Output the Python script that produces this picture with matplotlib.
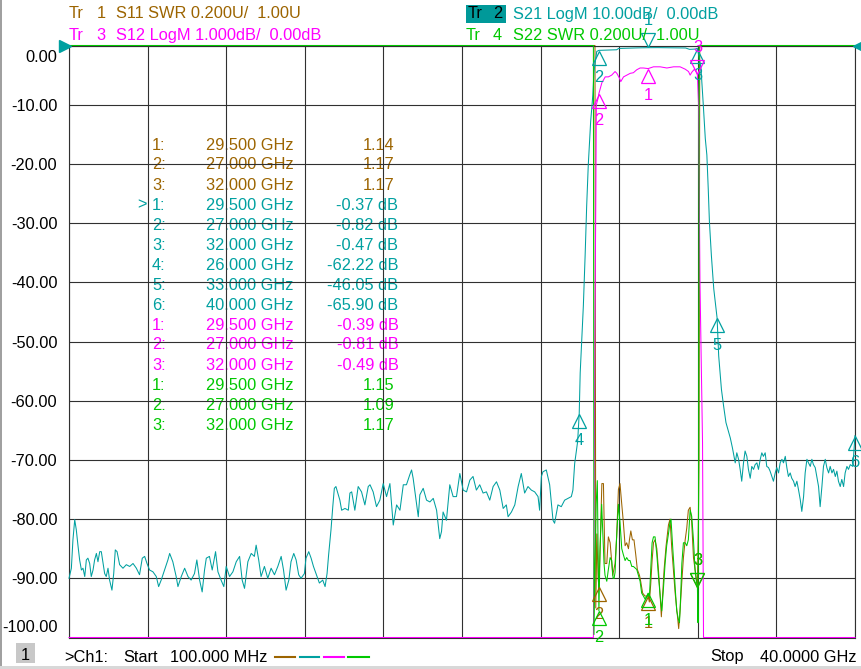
import numpy as np
import matplotlib
matplotlib.use("Agg")
import matplotlib.pyplot as plt
from matplotlib import transforms
from matplotlib.patches import Rectangle
from matplotlib.lines import Line2D

W, H = 862, 669
FONT = "Liberation Sans"
FS = 11.8

BROWN = "#9c6400"
CYAN = "#00a0a0"
MAGENTA = "#ff00ff"
GREEN = "#00c800"
GRID = "#303030"

f_start, f_stop = 0.1, 40.0

# Tr 2  S21 LogM (GHz, dB)
s21_pts = [
    (0.10, -90.0), (0.22, -88.3), (0.30, -83.5), (0.39, -80.1), (0.47, -81.8), (0.56, -84.6),
    (0.64, -86.9), (0.73, -88.6), (0.81, -88.3), (0.90, -89.7), (0.98, -86.9), (1.06, -86.6),
    (1.15, -87.5), (1.23, -89.7), (1.32, -88.6), (1.40, -86.9), (1.49, -85.8), (1.57, -87.2),
    (1.66, -85.5), (1.74, -85.5), (1.83, -87.5), (1.91, -89.2), (1.99, -89.7), (2.08, -88.3),
    (2.16, -90.3), (2.28, -92.0), (2.37, -89.2), (2.45, -85.2), (2.54, -85.5), (2.67, -87.7),
    (2.84, -88.3), (3.01, -87.7), (3.18, -88.0), (3.35, -87.5), (3.52, -88.3), (3.68, -89.4),
    (3.82, -86.6), (3.94, -86.3), (4.06, -87.5), (4.19, -88.6), (4.36, -88.9), (4.53, -89.7),
    (4.65, -91.4), (4.78, -90.3), (4.95, -88.6), (5.12, -86.9), (5.21, -85.8), (5.37, -87.2),
    (5.54, -89.7), (5.63, -91.4), (5.80, -89.7), (5.97, -88.3), (6.14, -89.7), (6.30, -90.3),
    (6.47, -89.2), (6.59, -86.9), (6.73, -90.3), (6.86, -92.3), (6.98, -88.6), (7.07, -86.6),
    (7.23, -86.3), (7.37, -88.6), (7.54, -85.5), (7.66, -88.9), (7.82, -90.3), (7.96, -91.4),
    (8.08, -88.0), (8.25, -89.7), (8.42, -88.9), (8.59, -87.2), (8.76, -86.3), (8.89, -90.3),
    (9.01, -91.7), (9.18, -87.2), (9.35, -85.8), (9.51, -86.3), (9.60, -84.4), (9.73, -86.9),
    (9.85, -89.7), (10.02, -88.0), (10.19, -90.0), (10.36, -88.3), (10.53, -89.4), (10.70, -88.0),
    (10.87, -86.3), (10.99, -88.6), (11.12, -92.0), (11.26, -90.3), (11.37, -87.2), (11.51, -85.8),
    (11.63, -86.9), (11.76, -89.4), (11.88, -90.0), (12.05, -89.2), (12.13, -86.6), (12.27, -85.5),
    (12.39, -86.6), (12.51, -88.0), (12.64, -89.2), (12.81, -90.8), (12.98, -90.3), (13.10, -91.4),
    (13.20, -89.2), (13.28, -86.0), (13.40, -81.8), (13.49, -77.9), (13.57, -74.8), (13.65, -74.5),
    (13.85, -76.8), (13.94, -78.5), (14.11, -78.2), (14.28, -78.5), (14.36, -75.6), (14.45, -75.4),
    (14.61, -78.5), (14.78, -74.5), (14.95, -75.4), (15.12, -77.6), (15.29, -74.5), (15.38, -74.2),
    (15.54, -75.4), (15.71, -77.9), (15.88, -76.8), (16.05, -74.0), (16.22, -76.2), (16.39, -74.0),
    (16.56, -81.0), (16.73, -77.6), (16.90, -78.5), (17.07, -74.2), (17.23, -74.2), (17.40, -72.5),
    (17.49, -71.7), (17.57, -73.1), (17.74, -77.3), (17.83, -79.6), (17.91, -75.9), (18.08, -74.8),
    (18.25, -76.8), (18.42, -77.1), (18.59, -76.5), (18.76, -78.5), (18.92, -83.3), (19.01, -82.1),
    (19.09, -78.8), (19.26, -80.2), (19.43, -74.2), (19.60, -76.2), (19.77, -76.2), (19.94, -72.3),
    (20.11, -75.1), (20.28, -75.4), (20.45, -73.4), (20.61, -72.8), (20.78, -75.1), (20.95, -74.2),
    (21.12, -75.6), (21.29, -75.4), (21.46, -76.8), (21.63, -74.5), (21.80, -73.7), (21.97, -75.1),
    (22.14, -78.2), (22.30, -77.6), (22.39, -79.6), (22.56, -78.8), (22.73, -77.6), (22.90, -74.5),
    (23.06, -72.3), (23.23, -75.6), (23.40, -74.5), (23.57, -75.1), (23.74, -75.4), (23.91, -76.2),
    (23.99, -78.5), (24.08, -72.8), (24.16, -72.0), (24.33, -71.7), (24.50, -74.2), (24.67, -80.2),
    (24.75, -80.7), (24.92, -77.6), (25.09, -77.9), (25.26, -76.8), (25.43, -76.5), (25.60, -76.2),
    (25.68, -75.1), (25.77, -70.6), (25.85, -68.6), (25.92, -66.9), (26.00, -62.2), (26.05, -55.3),
    (26.13, -49.6), (26.21, -44.0), (26.30, -35.5), (26.38, -27.0), (26.46, -20.2), (26.58, -12.9),
    (26.69, -8.4), (26.75, -4.4), (26.89, -1.0), (27.00, -0.82), (27.40, -0.78), (27.90, -0.72),
    (28.00, -0.50), (28.50, -0.45), (29.00, -0.40), (29.50, -0.37), (30.00, -0.36), (30.50, -0.38),
    (31.00, -0.40), (31.40, -0.42), (31.60, -0.65), (31.90, -0.60), (32.00, -0.47), (32.18, -3.8),
    (32.30, -10.1), (32.40, -15.7), (32.48, -18.5), (32.55, -24.2), (32.61, -29.8), (32.71, -35.5),
    (32.83, -41.1), (33.00, -46.05), (33.08, -52.4), (33.22, -58.1), (33.33, -60.9), (33.45, -63.7),
    (33.55, -64.9), (33.67, -66.3), (33.78, -68.0), (33.92, -70.5), (34.00, -68.8), (34.09, -69.9),
    (34.17, -71.6), (34.25, -73.6), (34.34, -70.5), (34.42, -68.5), (34.51, -69.4), (34.59, -71.6),
    (34.68, -73.1), (34.76, -71.1), (34.85, -71.6), (34.93, -70.8), (35.02, -70.5), (35.10, -71.6),
    (35.19, -69.9), (35.27, -68.8), (35.35, -69.4), (35.44, -68.8), (35.52, -71.1), (35.61, -71.3),
    (35.69, -71.9), (35.78, -72.8), (35.86, -73.6), (35.95, -72.2), (36.03, -71.3), (36.12, -72.2),
    (36.20, -70.5), (36.29, -69.9), (36.37, -70.5), (36.46, -69.4), (36.54, -71.3), (36.62, -72.8),
    (36.71, -72.2), (36.79, -73.1), (36.88, -73.6), (36.96, -74.5), (37.05, -73.6), (37.13, -75.0),
    (37.22, -76.7), (37.30, -78.7), (37.39, -76.2), (37.47, -72.2), (37.56, -69.9), (37.64, -70.5),
    (37.73, -71.1), (37.81, -69.9), (37.89, -70.8), (37.98, -71.3), (38.06, -72.8), (38.15, -74.5),
    (38.23, -77.9), (38.32, -74.5), (38.40, -71.1), (38.49, -69.9), (38.57, -71.3), (38.66, -72.2),
    (38.74, -71.1), (38.83, -72.2), (38.91, -71.6), (39.00, -72.8), (39.08, -71.9), (39.16, -73.6),
    (39.25, -74.5), (39.33, -73.3), (39.42, -74.5), (39.50, -72.2), (39.59, -71.1), (39.67, -71.6),
    (39.76, -70.8), (39.89, -71.1), (40.00, -65.9),
]

# Tr 3  S12 LogM (GHz, dB)
s12_pts = [
    (0.10, -20.0), (26.70, -20.0), (26.72, -10.5), (26.76, -8.0), (26.79, -5.0), (26.84, -2.7),
    (26.87, -1.0), (26.95, -0.90), (27.00, -0.81), (27.15, -0.63), (27.32, -0.53), (27.48, -0.53),
    (27.65, -0.50), (27.82, -0.44), (27.91, -0.47), (28.04, -0.55), (28.11, -0.61), (28.25, -0.53),
    (28.42, -0.50), (28.59, -0.47), (28.75, -0.46), (28.92, -0.41), (29.09, -0.38), (29.26, -0.38),
    (29.50, -0.39), (29.77, -0.36), (30.11, -0.36), (30.45, -0.38), (30.79, -0.36), (31.12, -0.36),
    (31.38, -0.40), (31.55, -0.44), (31.63, -0.50), (31.72, -0.45), (31.85, -0.40), (31.95, -0.45),
    (32.00, -0.49), (32.06, -1.0), (32.09, -2.3), (32.13, -4.0), (32.26, -6.7), (32.31, -10.5),
    (32.35, -20.0), (40.00, -20.0),
]

# Tr 1  S11 SWR (GHz, U)
s11_pts = [
    (0.10, 5.0), (26.80, 5.0), (26.84, 1.10), (26.90, 1.35), (26.96, 1.20), (27.00, 1.17),
    (27.06, 1.30), (27.15, 1.52), (27.23, 1.52), (27.26, 1.41), (27.31, 1.25), (27.40, 1.25),
    (27.48, 1.34), (27.57, 1.32), (27.62, 1.28), (27.70, 1.21), (27.82, 1.25), (27.90, 1.34),
    (27.99, 1.50), (28.07, 1.52), (28.16, 1.45), (28.24, 1.39), (28.33, 1.31), (28.41, 1.32),
    (28.50, 1.30), (28.55, 1.33), (28.62, 1.36), (28.70, 1.33), (28.78, 1.33), (28.87, 1.28),
    (28.95, 1.23), (29.06, 1.21), (29.12, 1.19), (29.22, 1.15), (29.34, 1.14), (29.50, 1.14),
    (29.56, 1.12), (29.63, 1.18), (29.70, 1.26), (29.77, 1.32), (29.85, 1.33), (29.94, 1.30),
    (30.02, 1.23), (30.11, 1.14), (30.17, 1.07), (30.24, 1.15), (30.31, 1.23), (30.41, 1.31),
    (30.53, 1.38), (30.61, 1.40), (30.70, 1.30), (30.78, 1.23), (30.87, 1.15), (30.99, 1.07),
    (31.05, 1.03), (31.12, 1.09), (31.21, 1.19), (31.29, 1.27), (31.38, 1.33), (31.46, 1.37),
    (31.54, 1.43), (31.63, 1.44), (31.71, 1.39), (31.80, 1.27), (31.88, 1.23), (32.00, 1.17),
    (32.04, 1.34), (32.08, 1.60), (32.12, 5.0), (40.00, 5.0),
]

# Tr 4  S22 SWR (GHz, U)
s22_pts = [
    (0.10, 5.0), (26.72, 5.0), (26.75, 1.01), (26.80, 1.25), (26.86, 1.45), (26.92, 1.53),
    (26.95, 1.35), (27.00, 1.09), (27.06, 1.30), (27.14, 1.45), (27.20, 1.35), (27.26, 1.25),
    (27.31, 1.21), (27.40, 1.19), (27.48, 1.23), (27.57, 1.27), (27.65, 1.26), (27.72, 1.20),
    (27.77, 1.20), (27.82, 1.22), (27.90, 1.34), (27.99, 1.45), (28.07, 1.39), (28.16, 1.30),
    (28.24, 1.28), (28.33, 1.26), (28.41, 1.27), (28.50, 1.26), (28.58, 1.26), (28.67, 1.24),
    (28.75, 1.24), (28.92, 1.23), (29.09, 1.19), (29.17, 1.15), (29.26, 1.14), (29.34, 1.13),
    (29.43, 1.14), (29.50, 1.15), (29.56, 1.13), (29.63, 1.23), (29.70, 1.32), (29.77, 1.34),
    (29.85, 1.34), (29.94, 1.28), (30.02, 1.21), (30.11, 1.14), (30.19, 1.09), (30.27, 1.16),
    (30.36, 1.25), (30.44, 1.31), (30.53, 1.35), (30.61, 1.39), (30.66, 1.40), (30.75, 1.30),
    (30.82, 1.23), (30.87, 1.17), (30.95, 1.09), (31.04, 1.06), (31.09, 1.05), (31.15, 1.14),
    (31.21, 1.25), (31.29, 1.32), (31.38, 1.32), (31.46, 1.31), (31.54, 1.33), (31.63, 1.43),
    (31.71, 1.41), (31.80, 1.33), (31.88, 1.23), (31.95, 1.19), (32.00, 1.17), (32.03, 1.05),
    (32.06, 1.45), (32.09, 5.0), (40.00, 5.0),
]

# marker readouts
mk3_freq = [29.5, 27.0, 32.0]
s11_mk = [1.14, 1.17, 1.17]
s21_mk_freq = [29.5, 27.0, 32.0, 26.0, 33.0, 40.0]
s21_mk = [-0.37, -0.82, -0.47, -62.22, -46.05, -65.90]
s12_mk = [-0.39, -0.81, -0.49]
s22_mk = [1.15, 1.09, 1.17]

# (ref value, per division, ref position in divisions)
scales = {
    "s11": (1.00, 0.2, 0),
    "s21": (0.00, 10.0, 10),
    "s12": (0.00, 1.0, 10),
    "s22": (1.00, 0.2, 0),
}


def to_screen(vals, key):
    ref, per_div, ref_div = scales[key]
    div = ref_div + (np.asarray(vals, dtype=float) - ref) / per_div
    return -100 + 10 * np.clip(div, 0, 10)


def px(x, y):
    return x / W, 1 - y / H


fig = plt.figure(figsize=(W / 100, H / 100), dpi=100)
ax = fig.add_axes([69 / W, 1 - 637.5 / H, (855 - 69) / W, (637.5 - 45.5) / H])
ax.set_xlim(f_start, f_stop)
ax.set_ylim(-100, 0)
ax.set_xticks(np.linspace(f_start, f_stop, 11))
ax.set_xticklabels([])
ax.set_yticks(np.arange(-100, 1, 10))
ax.set_yticklabels([f"{v:.2f}" for v in np.arange(-100, 1, 10)], fontsize=FS, family=FONT)
ax.tick_params(length=0, pad=8.4)
ax.set_axisbelow(True)
ax.grid(True, color=GRID, lw=0.8)
for sp in ax.spines.values():
    sp.set_color(GRID)
    sp.set_linewidth(0.8)

# shift outermost y labels inside the graticule
for lab in ax.get_yticklabels():
    t = lab.get_text()
    if t == "0.00":
        lab.set_transform(lab.get_transform() + transforms.ScaledTranslation(0, -11 / 100, fig.dpi_scale_trans))
    elif t == "-100.00":
        lab.set_transform(lab.get_transform() + transforms.ScaledTranslation(0, 12 / 100, fig.dpi_scale_trans))

traces = [
    ("s11", s11_pts, BROWN, mk3_freq, s11_mk, ["^", "^", "v"]),
    ("s21", s21_pts, CYAN, s21_mk_freq, s21_mk, ["v", "^", "^", "^", "^", "^"]),
    ("s12", s12_pts, MAGENTA, mk3_freq, s12_mk, ["^", "^", "v"]),
    ("s22", s22_pts, GREEN, mk3_freq, s22_mk, ["^", "^", "v"]),
]

for i, (key, pts, col, mf, mv, mdir) in enumerate(traces):
    f, v = np.array(pts).T
    ax.plot(f, to_screen(v, key), color=col, lw=0.75, clip_on=False, zorder=2 + i)

for i, (key, pts, col, mf, mv, mdir) in enumerate(traces):
    ys = to_screen(mv, key)
    for n, (x, y, d) in enumerate(zip(mf, ys, mdir)):
        sgn = -1 if d == "^" else 1
        tri = transforms.offset_copy(ax.transData, fig=fig, x=0, y=sgn * 7.3, units="dots")
        ax.plot([x], [y], marker=d, ms=10.5, mfc="none", mec=col, mew=0.9,
                transform=tri, clip_on=False, zorder=7)
        lab = transforms.offset_copy(ax.transData, fig=fig, x=0, y=sgn * 27, units="dots")
        ax.text(x, y, str(n + 1), transform=lab, ha="center", va="center", color=col,
                fontsize=FS, family=FONT, zorder=7, clip_on=False)

# reference level arrows
left = transforms.offset_copy(ax.transData, fig=fig, x=-4, y=0, units="dots")
right = transforms.offset_copy(ax.transData, fig=fig, x=4, y=0, units="dots")
ax.plot([f_start], [0], marker=">", ms=8, color=CYAN, transform=left, clip_on=False, zorder=8)
ax.plot([f_stop], [0], marker="<", ms=8, color=CYAN, transform=right, clip_on=False, zorder=8)

# marker table (drawn under the graticule)
rows = []
for n, (f, v) in enumerate(zip(mk3_freq, s11_mk)):
    rows.append(("", f"{n + 1}:", f"{f:.3f} GHz", f"{v:.2f}", BROWN, 394.5))
for n, (f, v) in enumerate(zip(s21_mk_freq, s21_mk)):
    rows.append((">" if n == 0 else "", f"{n + 1}:", f"{f:.3f} GHz", f"{v:.2f} dB", CYAN, 398.5))
for n, (f, v) in enumerate(zip(mk3_freq, s12_mk)):
    rows.append(("", f"{n + 1}:", f"{f:.3f} GHz", f"{v:.2f} dB", MAGENTA, 398.5))
for n, (f, v) in enumerate(zip(mk3_freq, s22_mk)):
    rows.append(("", f"{n + 1}:", f"{f:.3f} GHz", f"{v:.2f}", GREEN, 394.5))

for k, (pre, num, freq, val, col, xr) in enumerate(rows):
    yb = 149.5 + 20 * k
    kw = dict(transform=fig.transFigure, color=col, fontsize=FS, family=FONT, va="baseline", zorder=0.2)
    if pre:
        ax.text(*px(137, yb), pre, **kw)
    ax.text(*px(152, yb), num, **kw)
    ax.text(*px(206, yb), freq, **kw)
    ax.text(*px(xr, yb), val, ha="right", **kw)


def ftext(x, y, s, color="black", ha="left"):
    fig.text(*px(x, y), s, color=color, ha=ha, va="baseline", fontsize=FS, family=FONT)


# header
ftext(69, 18.5, "Tr", BROWN)
ftext(96.5, 18.5, "1", BROWN)
ftext(116.5, 18.5, "S11 SWR 0.200U/  1.00U", BROWN)
ftext(69, 40, "Tr", MAGENTA)
ftext(96, 40, "3", MAGENTA)
ftext(116.5, 40, "S12 LogM 1.000dB/  0.00dB", MAGENTA)

fig.patches.append(Rectangle(px(466, 23.3), 40 / W, 18.3 / H, transform=fig.transFigure,
                             facecolor="#009999", edgecolor="none"))
ftext(468, 18.5, "Tr")
ftext(492.7, 18.5, "2")
ftext(512.7, 18.5, "S21 LogM 10.00dB/  0.00dB", CYAN)
ftext(466, 40, "Tr", GREEN)
ftext(492.7, 40, "4", GREEN)
ftext(512.7, 40, "S22 SWR 0.200U/  1.00U", GREEN)

# footer
fig.patches.append(Rectangle(px(16, 663), 19 / W, 20 / H, transform=fig.transFigure,
                             facecolor="#c8c8c8", edgecolor="none"))
ftext(25.5, 659.5, "1", ha="center")
ftext(64, 661.5, ">Ch1:")
ftext(123, 661.5, "Start")
ftext(170.5, 661.5, "100.000 MHz")
for x0, col in zip([275, 299.5, 324, 348.5], [BROWN, CYAN, MAGENTA, GREEN]):
    fig.lines.append(Line2D([x0 / W, (x0 + 20) / W], [1 - 656.5 / H] * 2, transform=fig.transFigure,
                            color=col, lw=1.5))
ftext(710, 661.5, "Stop")
ftext(857, 661.5, "40.0000 GHz", ha="right")

fig.patches.append(Rectangle((0, 0), 2 / W, 1, transform=fig.transFigure,
                             facecolor="#a0a0a0", edgecolor="none"))
fig.patches.append(Rectangle((0, 0), 1, 3 / H, transform=fig.transFigure,
                             facecolor="#d8d8d8", edgecolor="none"))

fig.savefig("out.png", dpi=100, facecolor="white")
